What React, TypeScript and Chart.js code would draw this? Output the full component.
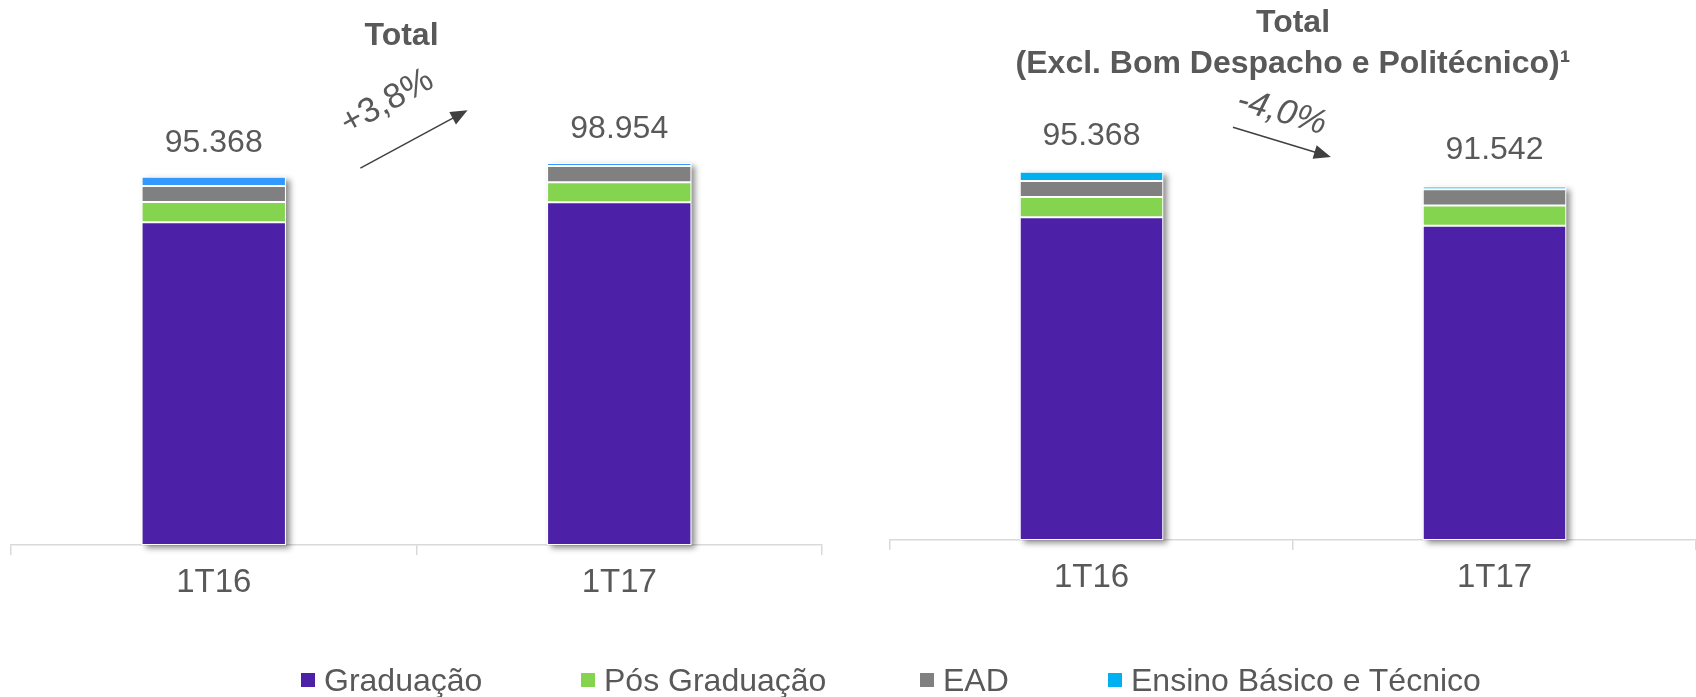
import React, { useEffect, useRef } from "react";
import { Chart, registerables } from "chart.js";

Chart.register(...registerables);

// ---------- data ----------
const categories = ["1T16", "1T17"];
const seriesNames = ["Graduação", "Pós Graduação", "EAD", "Ensino Básico e Técnico"];

// Left chart: Total
const totalGraduacao = [83608, 88750];
const totalPosGraduacao = [5200, 5200];
const totalEad = [4160, 4200];
const totalEnsino = [2400, 804];

// Right chart: Total (Excl. Bom Despacho e Politécnico)
const exclGraduacao = [83608, 81400];
const exclPosGraduacao = [5200, 5200];
const exclEad = [4160, 4200];
const exclEnsino = [2400, 742];

const leftTitle = ["Total"];
const rightTitle = ["Total", "(Excl. Bom Despacho e Politécnico)¹"];
const leftChange = "+3,8%";
const rightChange = "-4,0%";

// ---------- styles ----------
const leftColors = ["#4C21A8", "#84D450", "#808080", "#3399FF"];
const rightColors = ["#4C21A8", "#84D450", "#808080", "#00B0F0"];
const legendColors = ["#4C21A8", "#84D450", "#808080", "#00B0F0"];
const legendLeft = [301, 581, 920, 1108];
const TEXT = "#595959";
const FONT = "'Liberation Sans', Arial, Helvetica, sans-serif";
const Y_MAX = 130000;

function fmt(n: number): string {
  return String(Math.round(n)).replace(/\B(?=(\d{3})+(?!\d))/g, ".");
}

const decorPlugin = {
  id: "decor",
  beforeDatasetsDraw(chart: any) {
    const o = chart.options.plugins.decor;
    if (!o) return;
    const ctx = chart.ctx;
    const n = chart.data.datasets.length;
    const first = chart.getDatasetMeta(0).data;
    const last = chart.getDatasetMeta(n - 1).data;
    ctx.save();
    ctx.shadowColor = "rgba(0,0,0,0.45)";
    ctx.shadowBlur = 6;
    ctx.shadowOffsetX = 4;
    ctx.shadowOffsetY = 3;
    ctx.fillStyle = "#ffffff";
    for (let i = 0; i < first.length; i++) {
      const b0 = first[i];
      const bt = last[i];
      const w = b0.width;
      ctx.fillRect(b0.x - w / 2, bt.y, w, b0.base - bt.y);
    }
    ctx.restore();
  },
  afterDatasetsDraw(chart: any) {
    const o = chart.options.plugins.decor;
    if (!o) return;
    const ctx = chart.ctx;
    const xs = chart.scales.x;
    const ys = chart.scales.y;
    const xf = (f: number) => xs.getPixelForValue(0) + f * (xs.getPixelForValue(1) - xs.getPixelForValue(0));
    ctx.save();
    // totals
    ctx.fillStyle = TEXT;
    ctx.font = `32px ${FONT}`;
    ctx.textAlign = "center";
    ctx.textBaseline = "middle";
    const ds = chart.data.datasets;
    for (let i = 0; i < chart.data.labels.length; i++) {
      let t = 0;
      ds.forEach((d: any) => (t += d.data[i]));
      ctx.fillText(fmt(t), xs.getPixelForValue(i), ys.getPixelForValue(t) - o.totalGap);
    }
    // titles
    ctx.font = `bold 32px ${FONT}`;
    o.title.forEach((line: string, k: number) => {
      ctx.fillText(line, xf(o.titleX), o.titleY[k]);
    });
    // arrow
    const x1 = xf(o.arrow[0]);
    const y1 = ys.getPixelForValue(o.arrow[1]);
    const x2 = xf(o.arrow[2]);
    const y2 = ys.getPixelForValue(o.arrow[3]);
    const ang = Math.atan2(y2 - y1, x2 - x1);
    const head = 17;
    ctx.strokeStyle = "#404040";
    ctx.fillStyle = "#404040";
    ctx.lineWidth = 1.5;
    ctx.beginPath();
    ctx.moveTo(x1, y1);
    ctx.lineTo(x2 - Math.cos(ang) * head * 0.8, y2 - Math.sin(ang) * head * 0.8);
    ctx.stroke();
    ctx.beginPath();
    ctx.moveTo(x2, y2);
    ctx.lineTo(x2 - Math.cos(ang) * head - Math.sin(ang) * 7, y2 - Math.sin(ang) * head + Math.cos(ang) * 7);
    ctx.lineTo(x2 - Math.cos(ang) * head + Math.sin(ang) * 7, y2 - Math.sin(ang) * head - Math.cos(ang) * 7);
    ctx.closePath();
    ctx.fill();
    // change text
    ctx.translate(xf(o.changePos[0]), ys.getPixelForValue(o.changePos[1]));
    ctx.rotate((o.changeAngle * Math.PI) / 180);
    ctx.fillStyle = TEXT;
    ctx.font = `${o.changeItalic ? "italic " : ""}35px ${FONT}`;
    ctx.fillText(o.change, 0, 0);
    ctx.restore();
  },
};

type Props = {
  left: number;
  series: number[][];
  colors: string[];
  padding: { left: number; right: number; top: number; bottom: number };
  decor: any;
};

function StackChart({ left, series, colors, padding, decor }: Props) {
  const ref = useRef<HTMLCanvasElement | null>(null);
  useEffect(() => {
    if (!ref.current) return;
    const chart = new Chart(ref.current, {
      type: "bar",
      data: {
        labels: categories,
        datasets: series.map((d, k) => ({
          label: seriesNames[k],
          data: d,
          backgroundColor: colors[k],
          borderColor: "rgba(255,255,255,0.95)",
          borderWidth: 1,
          borderSkipped: false,
          barPercentage: 0.356,
          categoryPercentage: 1,
        })),
      },
      options: {
        animation: false,
        responsive: false,
        devicePixelRatio: 1,
        layout: { padding },
        plugins: {
          legend: { display: false },
          title: { display: false },
          tooltip: { enabled: false },
          decor,
        } as any,
        scales: {
          x: {
            stacked: true,
            offset: true,
            afterFit: (s: any) => {
              s.height = 60;
            },
            grid: {
              display: true,
              drawOnChartArea: false,
              drawTicks: true,
              tickLength: 10,
              color: "#D9D9D9",
              lineWidth: 1.5,
              offset: true,
            },
            border: { display: true, color: "#D9D9D9", width: 1.5 },
            ticks: { color: TEXT, font: { family: FONT, size: 33 }, padding: 8 },
          },
          y: {
            stacked: true,
            display: false,
            min: 0,
            max: Y_MAX,
          },
        },
      },
      plugins: [decorPlugin],
    });
    return () => chart.destroy();
  }, []);
  return (
    <canvas
      ref={ref}
      width={848}
      height={697}
      style={{ position: "absolute", left, top: 0, width: 848, height: 697 }}
    />
  );
}

export default function App() {
  return (
    <div
      style={{
        position: "fixed",
        left: 0,
        top: 0,
        width: 1696,
        height: 697,
        background: "#ffffff",
        overflow: "hidden",
        fontFamily: FONT,
      }}
    >
      <StackChart
        left={0}
        series={[totalGraduacao, totalPosGraduacao, totalEad, totalEnsino]}
        colors={leftColors}
        padding={{ left: 11, right: 26, top: 43, bottom: 92 }}
        decor={{
          title: leftTitle,
          titleX: 0.463,
          titleY: [36],
          totalGap: 34,
          arrow: [0.3616, 97600, 0.626, 112600],
          change: leftChange,
          changePos: [0.428, 114700],
          changeAngle: -29,
          changeItalic: false,
        }}
      />
      <StackChart
        left={848}
        series={[exclGraduacao, exclPosGraduacao, exclEad, exclEnsino]}
        colors={rightColors}
        padding={{ left: 42, right: 0, top: 38, bottom: 97 }}
        decor={{
          title: rightTitle,
          titleX: 0.5,
          titleY: [23, 64],
          totalGap: 36,
          arrow: [0.351, 106900, 0.594, 99200],
          change: rightChange,
          changePos: [0.472, 110700],
          changeAngle: 16,
          changeItalic: true,
        }}
      />
      {seriesNames.map((name, k) => (
        <div
          key={name}
          style={{
            position: "absolute",
            left: legendLeft[k],
            top: 664,
            height: 32,
            lineHeight: "32px",
            fontSize: 32,
            color: TEXT,
            whiteSpace: "nowrap",
            display: "flex",
            alignItems: "center",
          }}
        >
          <span
            style={{
              display: "inline-block",
              width: 14,
              height: 14,
              background: legendColors[k],
              marginRight: 9,
            }}
          />
          <span>{name}</span>
        </div>
      ))}
    </div>
  );
}
